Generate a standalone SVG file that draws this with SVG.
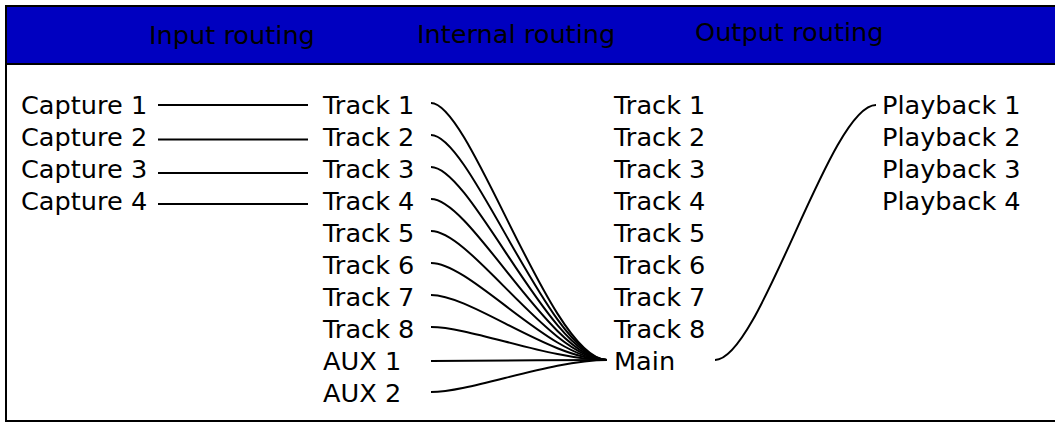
<svg xmlns="http://www.w3.org/2000/svg" width="1055" height="423" viewBox="0 0 1055 423">
<style>
text{font-family:"DejaVu Sans","Noto Sans",sans-serif;font-size:25.6px;fill:#000}
.c{fill:none;stroke:#000;stroke-width:2}
</style>
<rect x="6" y="6" width="1100" height="415" fill="#fff" stroke="#000" stroke-width="2"/>
<rect x="6" y="6" width="1100" height="58" fill="#0000c0" stroke="#000" stroke-width="2"/>
<g id="headers">
<text x="149" y="44">Input routing</text>
<text x="417" y="43">Internal routing</text>
<text x="695" y="41">Output routing</text>
</g>
<g id="captures">
<text x="21" y="114">Capture 1</text>
<text x="21" y="146">Capture 2</text>
<text x="21" y="178">Capture 3</text>
<text x="21" y="210">Capture 4</text>
</g>
<g id="tracks-in">
<text x="323" y="114">Track 1</text>
<text x="323" y="146">Track 2</text>
<text x="323" y="178">Track 3</text>
<text x="323" y="210">Track 4</text>
<text x="323" y="242">Track 5</text>
<text x="323" y="274">Track 6</text>
<text x="323" y="306">Track 7</text>
<text x="323" y="338">Track 8</text>
<text x="323" y="370">AUX 1</text>
<text x="323" y="402">AUX 2</text>
</g>
<g id="tracks-out">
<text x="614" y="114">Track 1</text>
<text x="614" y="146">Track 2</text>
<text x="614" y="178">Track 3</text>
<text x="614" y="210">Track 4</text>
<text x="614" y="242">Track 5</text>
<text x="614" y="274">Track 6</text>
<text x="614" y="306">Track 7</text>
<text x="614" y="338">Track 8</text>
<text x="614" y="370">Main</text>
</g>
<g id="playback">
<text x="882" y="114">Playback 1</text>
<text x="882" y="146">Playback 2</text>
<text x="882" y="178">Playback 3</text>
<text x="882" y="210">Playback 4</text>
</g>
<g id="connectors" class="c">
<path class="c" d="M158,105H308"/>
<path class="c" d="M158,139.5H308"/>
<path class="c" d="M158,173H308"/>
<path class="c" d="M158,204H308"/>
<path class="c" d="M431,103C471,103 551,360 607,360"/>
<path class="c" d="M431,135C471,135 551,360 607,360"/>
<path class="c" d="M431,167C471,167 551,360 607,360"/>
<path class="c" d="M431,199C471,199 551,360 607,360"/>
<path class="c" d="M431,231C471,231 551,360 607,360"/>
<path class="c" d="M431,263C471,263 551,360 607,360"/>
<path class="c" d="M431,295C471,295 551,360 607,360"/>
<path class="c" d="M431,327C471,327 551,360 607,360"/>
<path class="c" d="M431,361C471,361 551,360 607,360"/>
<path class="c" d="M431,392C471,392 551,360 607,360"/>
<path class="c" d="M715,360C760,360 830,105 876,105"/>
</g>
</svg>
